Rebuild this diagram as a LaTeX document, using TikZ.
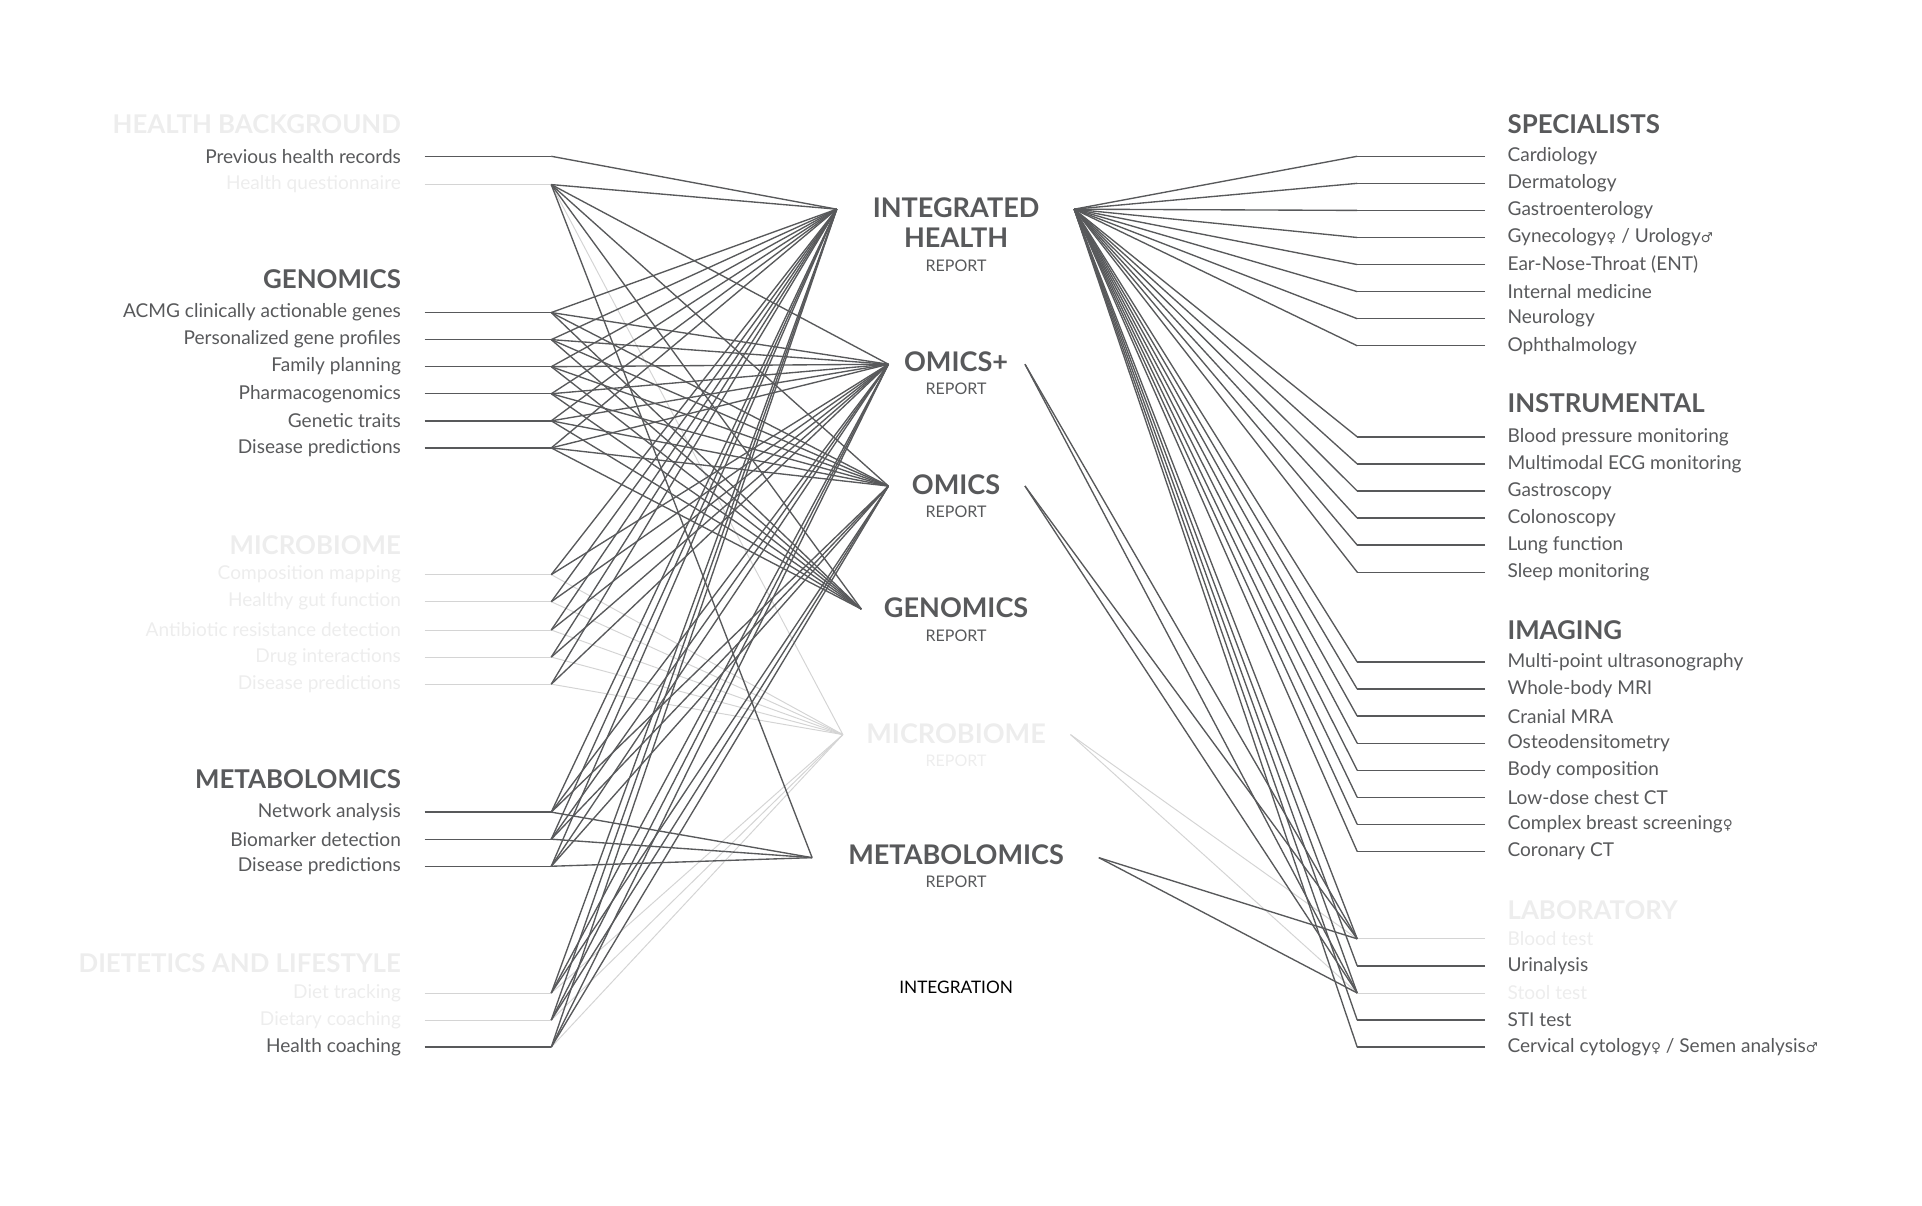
\documentclass[tikz,border=0pt]{standalone}
\usepackage{fontspec}
\setmainfont{Lato}
\newfontfamily\symf{DejaVu Sans}
\definecolor{dk}{HTML}{58595B}
\definecolor{ft}{HTML}{EDEDED}
\definecolor{fl}{HTML}{D4D4D4}
\begin{document}
\begin{tikzpicture}[x=1pt,y=-1pt,
  litem/.style={anchor=east,text=dk,font=\fontsize{15.5}{16}\selectfont,inner sep=0pt},
  ritem/.style={anchor=west,text=dk,font=\fontsize{15.5}{16}\selectfont,inner sep=0pt},
  lhead/.style={anchor=east,text=dk,font=\bfseries\fontsize{21}{22}\selectfont,inner sep=0pt},
  rhead/.style={anchor=west,text=dk,font=\bfseries\fontsize{21}{22}\selectfont,inner sep=0pt},
  ctitle/.style={text=dk,font=\bfseries\fontsize{22}{25}\selectfont,align=center,inner sep=0pt},
  csub/.style={text=dk,font=\fontsize{13}{14}\selectfont,inner sep=0pt},
  faint/.style={text=ft},
  ln/.style={draw=dk,line width=1.1pt},
  fln/.style={draw=fl,line width=0.8pt}]
\useasboundingbox (0,0) rectangle (1562,980);
% centre anchors
\coordinate (IL) at (680,170); \coordinate (IR) at (873,170);
\coordinate (PL) at (722,296); \coordinate (PR) at (833,296);
\coordinate (OL) at (722,395); \coordinate (OR) at (833,395);
\coordinate (GL) at (700,495);
\coordinate (ML) at (685,597); \coordinate (MR) at (870,597);
\coordinate (EL) at (660,697); \coordinate (ER) at (893,697);
% centre texts
\node[ctitle] (ihr) at (777,181) {INTEGRATED\\HEALTH};
\node[csub] (ihrs) at (777,216) {REPORT};
\node[ctitle] (op) at (777,294) {OMICS+};
\node[csub] (ops) at (777,316) {REPORT};
\node[ctitle] (om) at (777,394) {OMICS};
\node[csub] (oms) at (777,416) {REPORT};
\node[ctitle] (ge) at (777,494) {GENOMICS};
\node[csub] (ges) at (777,517) {REPORT};
\node[ctitle,faint] (mi) at (777,596) {MICROBIOME};
\node[csub,faint] (mis) at (777,618) {REPORT};
\node[ctitle] (me) at (777,695) {METABOLOMICS};
\node[csub] (mes) at (777,717) {REPORT};
\node[csub,text=black,font=\fontsize{14}{15}\selectfont] (int) at (777,802) {INTEGRATION};
% left headers
\node[lhead,faint] (hb) at (326,101) {HEALTH BACKGROUND};
\node[lhead] (gh) at (326,227) {GENOMICS};
\node[lhead,faint] (mbh) at (326,443) {MICROBIOME};
\node[lhead] (mth) at (326,633) {METABOLOMICS};
\node[lhead,faint] (dh) at (326,783) {DIETETICS AND LIFESTYLE};
% right headers
\node[rhead] (sh) at (1225,101) {SPECIALISTS};
\node[rhead] (inh) at (1225,328) {INSTRUMENTAL};
\node[rhead] (imh) at (1225,512) {IMAGING};
\node[rhead,faint] (lh) at (1225,740) {LABORATORY};
% left items: name/y/label/faint
\foreach \n/\y/\t/\f in {
 a1/127/Previous health records/0, a2/150/Health questionnaire/1,
 g1/254/ACMG clinically actionable genes/0, g2/276/Personalized gene profiles/0,
 g3/298/Family planning/0, g4/320/Pharmacogenomics/0, g5/342/Genetic traits/0,
 g6/364/Disease predictions/0,
 b1/467/Composition mapping/1, b2/489/Healthy gut function/1,
 b3/512/Antibiotic resistance detection/1, b4/534/Drug interactions/1,
 b5/556/Disease predictions/1,
 m1/660/Network analysis/0, m2/682/Biomarker detection/0, m3/704/Disease predictions/0,
 d1/807/Diet tracking/1, d2/829/Dietary coaching/1, d3/851/Health coaching/0}{
  \ifnum\f=1
    \node[litem,faint] (\n) at (326,\y) {\t};
    \coordinate (\n s) at (345,\y); \coordinate (\n f) at (448,\y);
    \draw[fln] (\n s) -- (\n f);
  \else
    \node[litem] (\n) at (326,\y) {\t};
    \coordinate (\n s) at (345,\y); \coordinate (\n f) at (448,\y);
    \draw[ln] (\n s) -- (\n f);
  \fi
}
% right items
\foreach \n/\y/\t/\f in {
 s1/127/Cardiology/0, s2/149/Dermatology/0, s3/171/Gastroenterology/0,
 s4/193/{Gynecology{\symf\fontsize{11}{12}\selectfont ♀} / Urology{\symf\fontsize{11}{12}\selectfont ♂}}/0,
 s5/215/Ear-Nose-Throat (ENT)/0, s6/237/Internal medicine/0, s7/259/Neurology/0,
 s8/281/Ophthalmology/0,
 i1/355/Blood pressure monitoring/0, i2/377/Multimodal ECG monitoring/0,
 i3/399/Gastroscopy/0, i4/421/Colonoscopy/0, i5/443/Lung function/0,
 i6/465/Sleep monitoring/0,
 r1/538/Multi-point ultrasonography/0, r2/560/Whole-body MRI/0, r3/582/Cranial MRA/0,
 r4/604/Osteodensitometry/0, r5/626/Body composition/0, r6/648/Low-dose chest CT/0,
 r7/670/{Complex breast screening{\symf\fontsize{11}{12}\selectfont ♀}}/0, r8/692/Coronary CT/0,
 l1/763/Blood test/1, l2/785/Urinalysis/0, l3/807/Stool test/1, l4/829/STI test/0,
 l5/851/{Cervical cytology{\symf\fontsize{11}{12}\selectfont ♀} / Semen analysis{\symf\fontsize{11}{12}\selectfont ♂}}/0}{
  \ifnum\f=1
    \node[ritem,faint] (\n) at (1225,\y) {\t};
    \coordinate (\n s) at (1207,\y); \coordinate (\n f) at (1103,\y);
    \draw[fln] (\n s) -- (\n f);
  \else
    \node[ritem] (\n) at (1225,\y) {\t};
    \coordinate (\n s) at (1207,\y); \coordinate (\n f) at (1103,\y);
    \draw[ln] (\n s) -- (\n f);
  \fi
}
% faint connectors first
\foreach \n in {a2,b1,b2,b3,b4,b5,d1,d2,d3} \draw[fln] (\n f) -- (ML);
\foreach \n in {l1,l3} {\draw[fln] (MR) -- (\n f);}
% left fans
\draw[ln] (a1f) -- (IL);
\foreach \c in {IL,PL,OL,GL,EL} \draw[ln] (a2f) -- (\c);
\foreach \n in {g1,g2,g3,g4,g5,g6} \foreach \c in {IL,PL,OL,GL} \draw[ln] (\n f) -- (\c);
\foreach \n in {b1,b2,b3,b4,b5} \foreach \c in {IL,PL} \draw[ln] (\n f) -- (\c);
\foreach \n in {m1,m2,m3} \foreach \c in {IL,PL,OL,EL} \draw[ln] (\n f) -- (\c);
\foreach \n in {d1,d2,d3} \foreach \c in {IL,PL,OL} \draw[ln] (\n f) -- (\c);
% right fans
\foreach \n in {s1,s2,s3,s4,s5,s6,s7,s8,i1,i2,i3,i4,i5,i6,r1,r2,r3,r4,r5,r6,r7,r8,l1,l2,l3,l4,l5}
  \draw[ln] (IR) -- (\n f);
\foreach \c in {PR,OR,ER} \foreach \n in {l1,l3} \draw[ln] (\c) -- (\n f);
\end{tikzpicture}
\end{document}
